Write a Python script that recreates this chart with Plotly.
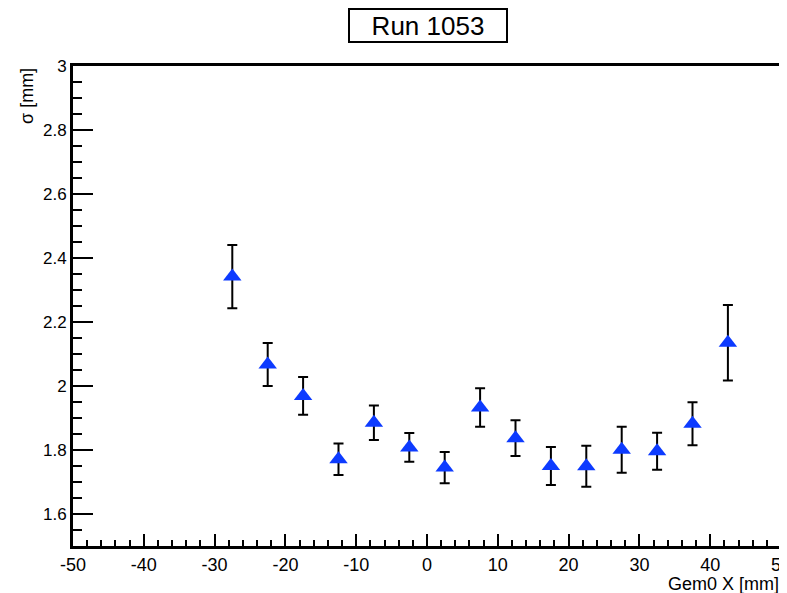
import plotly.graph_objects as go

x_mm = [-27.5, -22.5, -17.5, -12.5, -7.5, -2.5, 2.5, 7.5, 12.5, 17.5, 22.5, 27.5, 32.5, 37.5, 42.5]
sigma = [2.342, 2.067, 1.969, 1.771, 1.885, 1.808, 1.745, 1.933, 1.837, 1.750, 1.749, 1.801, 1.796, 1.882, 2.135]
sigma_err = [0.099, 0.067, 0.059, 0.049, 0.054, 0.045, 0.049, 0.060, 0.056, 0.059, 0.064, 0.072, 0.058, 0.067, 0.118]

x_ticks = [-50, -40, -30, -20, -10, 0, 10, 20, 30, 40, 50]
y_ticks = [1.6, 1.8, 2.0, 2.2, 2.4, 2.6, 2.8, 3.0]
y_tick_labels = ["1.6", "1.8", "2", "2.2", "2.4", "2.6", "2.8", "3"]

FONT = "Liberation Sans, Arial, Helvetica, sans-serif"

# The page body has an 8px default margin, so the figure is sized to fill
# the rest of the 787x593 window.
fig = go.Figure()
fig.add_trace(go.Scatter(
    x=x_mm, y=sigma, mode="markers",
    marker=dict(symbol="triangle-up", size=16, color="#0d3bff", line=dict(width=0)),
    error_y=dict(type="data", array=sigma_err, visible=True, color="black", thickness=2, width=5),
    showlegend=False, cliponaxis=False,
))

fig.update_layout(
    width=779, height=585,
    margin=dict(l=65, r=6, t=58, b=47),
    paper_bgcolor="white", plot_bgcolor="white",
    font=dict(family=FONT, color="black"),
    xaxis=dict(
        range=[-50, 50], tickvals=x_ticks, ticktext=[str(v) for v in x_ticks],
        ticks="inside", ticklen=12, tickwidth=2, tickcolor="black",
        minor=dict(ticks="inside", dtick=2, ticklen=6, tickwidth=2, tickcolor="black"),
        showline=True, linecolor="black", linewidth=3, mirror=True,
        showgrid=False, zeroline=False, tickfont=dict(size=18), automargin=False,
        ticklabeloverflow="allow",
    ),
    yaxis=dict(
        range=[1.5, 3.0], tickvals=y_ticks, ticktext=y_tick_labels,
        ticks="inside", ticklen=20, tickwidth=2, tickcolor="black",
        minor=dict(ticks="inside", dtick=0.05, tick0=1.5, ticklen=9, tickwidth=2, tickcolor="black"),
        showline=True, linecolor="black", linewidth=3, mirror=True,
        showgrid=False, zeroline=False, tickfont=dict(size=17), automargin=False,
        ticklabeloverflow="allow",
    ),
    annotations=[
        dict(text="Run 1053", xref="paper", yref="paper", x=(428 - 73) / 708, y=1,
             xanchor="center", yanchor="bottom", yshift=23, showarrow=False,
             font=dict(size=26, family=FONT), bordercolor="black", borderwidth=2,
             borderpad=0, bgcolor="white", width=156, height=31),
        dict(text="Gem0 X [mm]", xref="paper", yref="paper", x=1, y=0,
             xanchor="right", yanchor="top", yshift=-26, showarrow=False,
             font=dict(size=18, family=FONT)),
        dict(text="σ [mm]", xref="paper", yref="paper", x=-0.065, y=1,
             xanchor="center", yanchor="top", textangle=-90, showarrow=False,
             font=dict(size=18, family=FONT)),
    ],
)

fig.write_html("out.html")
